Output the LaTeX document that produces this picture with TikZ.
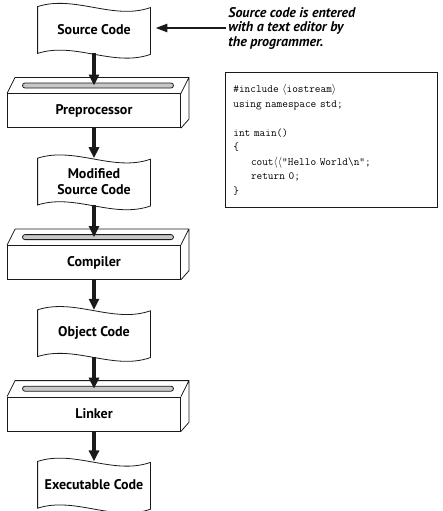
\documentclass[tikz,border=0pt]{standalone}
\usepackage{fontspec}
\setsansfont{PT Sans}
\usetikzlibrary{arrows.meta,positioning}
\definecolor{fc-slot}{HTML}{C8C8C8}
\definecolor{fc-ink}{HTML}{1A1A1A}

\begin{document}
\begin{tikzpicture}[x=1pt, y=1pt, line width=0.8pt, draw=fc-ink,
  doc/.style={minimum width=112pt, minimum height=46pt, inner sep=0pt, align=center,
    font=\sffamily\bfseries\fontsize{14}{15.5}\selectfont},
  stage/.style={draw, minimum width=173pt, minimum height=34pt, inner sep=0pt,
    font=\sffamily\bfseries\fontsize{14}{15.5}\selectfont},
  slot/.style={draw, fill=fc-slot, rounded corners=2.5pt, minimum width=151pt,
    minimum height=5pt, inner sep=0pt},
  flow/.style={-{Triangle[length=11pt,width=10pt]}, line width=4pt, fc-ink},
  callout/.style={-{Triangle[length=12pt,width=8pt]}, line width=2.5pt, fc-ink},
  note/.style={align=left, inner sep=2pt,
    font=\sffamily\bfseries\itshape\fontsize{14}{14.5}\selectfont},
  code/.style={draw, align=left, text width=196pt, inner xsep=8pt,
    minimum height=135pt, font=\ttfamily\fontsize{11}{14.5}\selectfont}]
\useasboundingbox (0,0) rectangle (442,-511);

% flow of the build
\node[doc] (src) at (94,-30) {Source Code};
\node[stage, below=40pt of src] (pre) {Preprocessor};
\node[doc, below=30pt of pre] (mod) {Modified\\Source Code};
\node[stage, below=40pt of mod] (comp) {Compiler};
\node[doc, below=30pt of comp] (obj) {Object Code};
\node[stage, below=40pt of obj] (link) {Linker};
\node[doc, below=30pt of link] (exe) {Executable Code};

% documents with wavy edges
\foreach \d in {src,mod,obj,exe}
  \draw (\d.north west) .. controls +(37,12) and +(-37,-13) .. ([yshift=-1pt]\d.north east)
    -- ([yshift=-1pt]\d.south east) .. controls +(-37,-13) and +(37,12) .. (\d.south west) -- cycle;

% boxes drawn in depth
\foreach \b in {pre,comp,link}
  \draw (\b.north west) -- ++(8,16) -- ([shift={(8,16)}]\b.north east)
    -- ([shift={(8,9)}]\b.south east) -- (\b.south east)
    (\b.north east) -- ++(8,16);

\node[slot, above=5pt of pre.north, xshift=4pt] (preslot) {};
\node[slot, above=5pt of comp.north, xshift=4pt] (compslot) {};
\node[slot, above=5pt of link.north, xshift=4pt] (linkslot) {};

\draw[flow] (src.south) -- (src.south |- preslot.center);
\draw[flow] (pre.south) -- (mod.north);
\draw[flow] (mod.south) -- (mod.south |- compslot.center);
\draw[flow] (comp.south) -- (obj.north);
\draw[flow] (obj.south) -- (obj.south |- linkslot.center);
\draw[flow] (link.south) -- (exe.north);

% the note and the sample program
\node[note, anchor=west] (note) at (226,-28) {Source code is entered\\with a text editor by\\the programmer.};
\draw[callout, shorten >=5pt] (note.west) -- (note.west -| src.east);

\node[code, anchor=north west] (code) at (225,-72) {\#include $\langle$iostream$\rangle$\\
using namespace std;\\[14.5pt]
int main()\\
\{\\
\hspace*{1.6em}cout$\langle\langle$"Hello World\textbackslash n";\\
\hspace*{1.6em}return 0;\\
\}};
\end{tikzpicture}
\end{document}
